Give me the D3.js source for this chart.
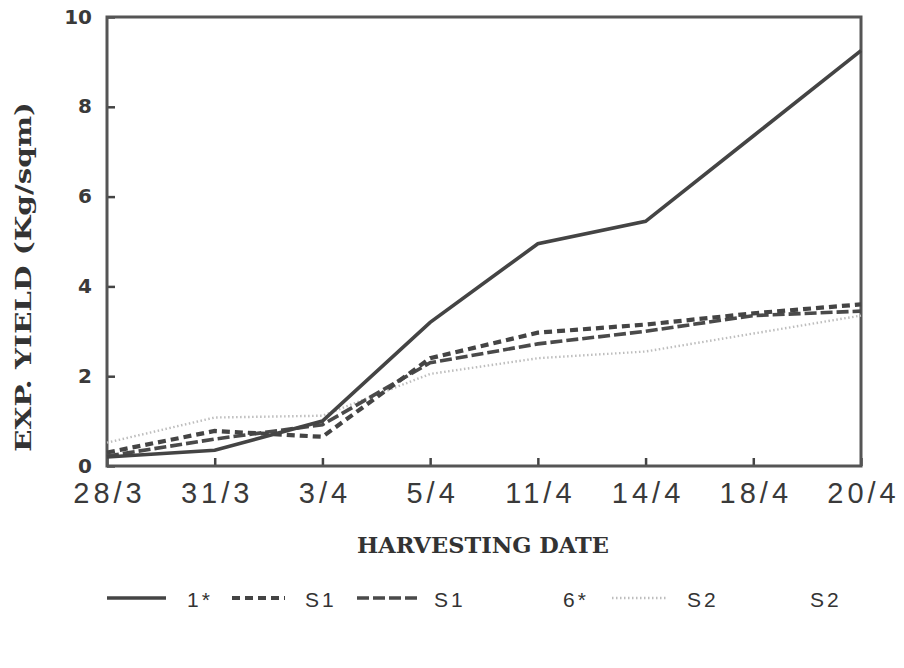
<!DOCTYPE html>
<html>
<head>
<meta charset="utf-8">
<script src="https://cdn.jsdelivr.net/npm/d3@7"></script>
<style>
  body { margin: 0; background: #fff; }
</style>
</head>
<body>
<div id="content"></div>
<script>
// harvest dates and yield per series (Kg/sqm)
let dates = ["28/3", "31/3", "3/4", "5/4", "11/4", "14/4", "18/4", "20/4"];
let solid1 = [0.2, 0.35, 1.0, 3.2, 4.95, 5.45, 7.35, 9.25];
let dashS1a = [0.3, 0.78, 0.65, 2.4, 2.97, 3.15, 3.4, 3.6];
let dashS1b = [0.22, 0.6, 0.92, 2.3, 2.72, 3.0, 3.35, 3.45];
let dotS2 = [0.52, 1.08, 1.12, 2.05, 2.4, 2.55, 2.95, 3.35];
let yTicks = [0, 2, 4, 6, 8, 10];

const margin = {top: 17, right: 43, bottom: 202, left: 107},
    width = 904 - margin.left - margin.right,
    height = 668 - margin.top - margin.bottom;

var svg = d3.select("#content")
    .append("svg")
    .attr("width", 904)
    .attr("height", 668)
    .append("g")
    .attr("transform", "translate(" + margin.left + "," + margin.top + ")");

let x = d3.scalePoint()
    .domain(dates)
    .range([0, width]);

let y = d3.scaleLinear()
    .domain([0, 10])
    .range([height, 0]);

let series = [
    {values: solid1, color: "#444", width: 3.6, dash: null},
    {values: dashS1a, color: "#444", width: 4.2, dash: "8,5"},
    {values: dashS1b, color: "#4a4a4a", width: 3.6, dash: "12,4"},
    {values: dotS2, color: "#bdbdbd", width: 2.4, dash: "1.5,2.5"}
];

const line = d3.line()
    .x((d, i) => x(dates[i]))
    .y(d => y(d));

// y axis ticks pointing inward
let yAxis = d3.axisLeft(y)
    .tickValues(yTicks)
    .tickSize(-8)
    .tickPadding(15)
    .tickFormat(d3.format("d"));

let yg = svg.append("g").call(yAxis);
yg.select(".domain").remove();
yg.selectAll("line").attr("stroke", "#444").attr("stroke-width", 2.5);
yg.selectAll("text")
    .attr("dy", "0.3em")
    .style("font-family", "DejaVu Sans")
    .style("font-weight", "bold")
    .style("font-size", "20px")
    .attr("fill", "#3a3a3a");

let xAxis = d3.axisBottom(x)
    .tickSize(-8)
    .tickPadding(16);

let xg = svg.append("g")
    .attr("transform", "translate(0," + height + ")")
    .call(xAxis);
xg.select(".domain").remove();
xg.selectAll("line").attr("stroke", "#444").attr("stroke-width", 2.5);
xg.selectAll("text")
    .attr("dx", "2")
    .style("font-family", "Liberation Sans, Arial")
    .style("font-size", "29px")
    .style("letter-spacing", "4px")
    .attr("fill", "#3a3a3a");

// frame round the plot
svg.append("rect")
    .attr("width", width)
    .attr("height", height)
    .attr("fill", "none")
    .attr("stroke", "#555")
    .attr("stroke-width", 3);

series.slice().reverse().forEach(s => {
    svg.append("path")
        .datum(s.values)
        .attr("fill", "none")
        .attr("stroke", s.color)
        .attr("stroke-width", s.width)
        .attr("stroke-dasharray", s.dash)
        .attr("d", line);
});

// axis titles
svg.append("text")
    .attr("transform", "translate(" + (-76) + "," + 260 + ") rotate(-90)")
    .attr("text-anchor", "middle")
    .attr("textLength", 350)
    .attr("lengthAdjust", "spacingAndGlyphs")
    .style("font-family", "DejaVu Serif")
    .style("font-weight", "bold")
    .style("font-size", "23px")
    .attr("fill", "#333")
    .text("EXP. YIELD (Kg/sqm)");

svg.append("text")
    .attr("x", 483 - margin.left)
    .attr("y", 553 - margin.top)
    .attr("text-anchor", "middle")
    .attr("textLength", 252)
    .attr("lengthAdjust", "spacingAndGlyphs")
    .style("font-family", "DejaVu Serif")
    .style("font-weight", "bold")
    .style("font-size", "23px")
    .attr("fill", "#333")
    .text("HARVESTING DATE");

// legend, laid out as in the printout
let legend = svg.append("g")
    .attr("transform", "translate(" + (-margin.left) + "," + (598 - margin.top) + ")");

let legendSamples = [
    {x1: 107, x2: 166, s: series[0]},
    {x1: 232, x2: 285, s: series[1]},
    {x1: 357, x2: 420, s: series[2]},
    {x1: 612, x2: 668, s: series[3]}
];
legendSamples.forEach(d => {
    legend.append("line")
        .attr("x1", d.x1).attr("x2", d.x2)
        .attr("y1", 0).attr("y2", 0)
        .attr("stroke", d.s.color)
        .attr("stroke-width", d.s.width)
        .attr("stroke-dasharray", d.s.dash);
});

let legendTexts = [
    {x: 187, t: "1*"}, {x: 305, t: "S1"}, {x: 434, t: "S1"},
    {x: 563, t: "6*"}, {x: 687, t: "S2"}, {x: 810, t: "S2"}
];
legend.selectAll(".lt")
    .data(legendTexts)
    .enter().append("text")
    .attr("x", d => d.x)
    .attr("y", 9)
    .style("font-family", "Liberation Sans, Arial")
    .style("font-size", "21px")
    .style("letter-spacing", "3px")
    .attr("fill", "#333")
    .text(d => d.t);
</script>
</body>
</html>
